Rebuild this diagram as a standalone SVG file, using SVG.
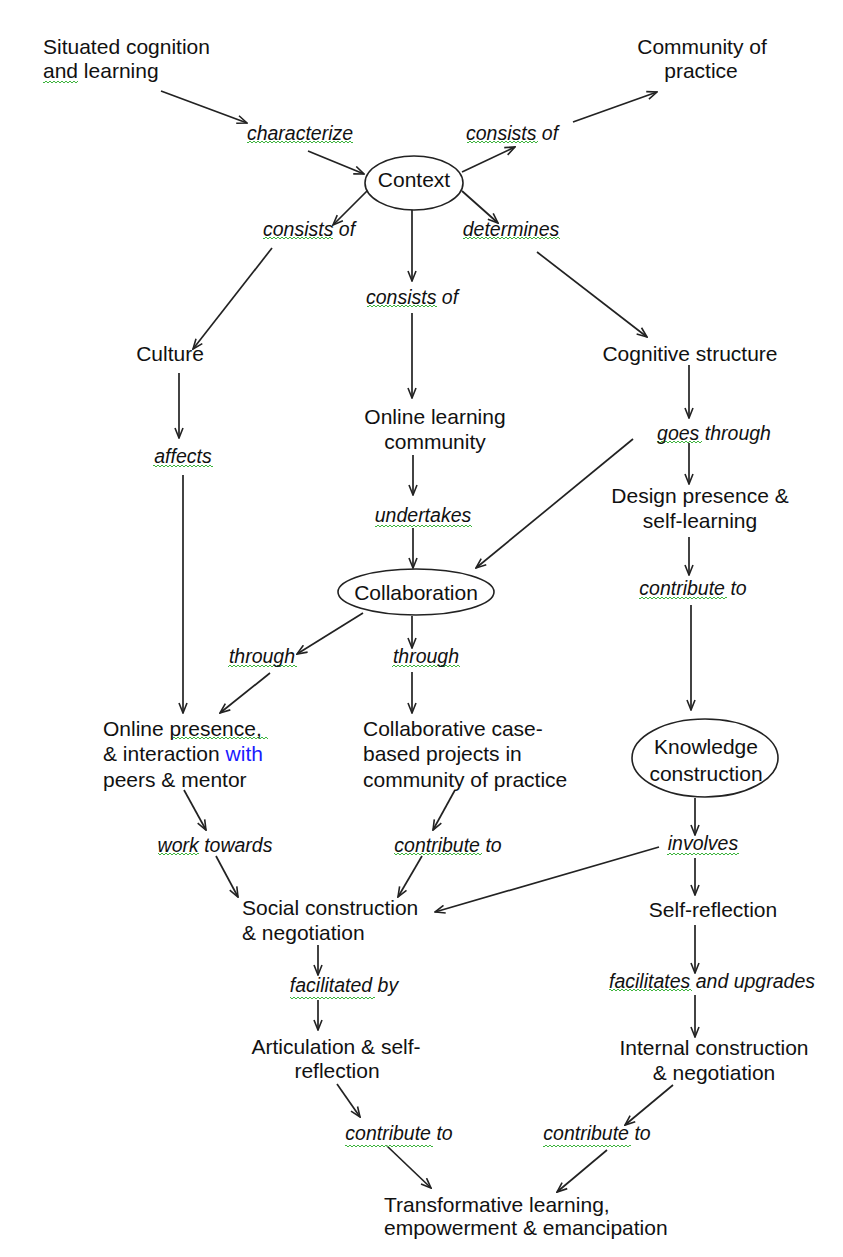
<svg xmlns="http://www.w3.org/2000/svg" width="843" height="1257" viewBox="0 0 843 1257">
<style>
.n{font-family:"Liberation Sans",Arial,sans-serif;font-size:21px;fill:#111}
.l{font-family:"Liberation Sans",Arial,sans-serif;font-size:19.5px;font-style:italic;fill:#111}
.c{text-anchor:middle}
.e{fill:#fff;stroke:#222;stroke-width:1.6}
.a{stroke:#222;stroke-width:1.7;fill:none;marker-end:url(#ah)}
.sq{fill:url(#sq)}
</style>
<defs>
<marker id="ah" viewBox="0 0 12 10" refX="11" refY="5" markerWidth="12" markerHeight="10" markerUnits="userSpaceOnUse" orient="auto">
<path d="M1,1 L11,5 L1,9" fill="none" stroke="#222" stroke-width="1.6"/>
</marker>
<pattern id="sq" width="4" height="4" patternUnits="userSpaceOnUse">
<path d="M0,3 L2,1 L4,3" fill="none" stroke="#3cb43c" stroke-width="1"/>
</pattern>
</defs>
<rect width="843" height="1257" fill="#fff"/>
<g id="connectors">
<line class="a" x1="161" y1="91" x2="247" y2="123"/>
<line class="a" x1="308" y1="151" x2="364" y2="174"/>
<line class="a" x1="462" y1="172" x2="515" y2="147"/>
<line class="a" x1="573" y1="122" x2="657" y2="92"/>
<line class="a" x1="367" y1="191" x2="333" y2="225"/>
<line class="a" x1="272" y1="248" x2="193" y2="349"/>
<line class="a" x1="412" y1="209" x2="412" y2="281"/>
<line class="a" x1="412" y1="313" x2="412" y2="398"/>
<line class="a" x1="462" y1="191" x2="498" y2="223"/>
<line class="a" x1="537" y1="252" x2="647" y2="337"/>
<line class="a" x1="179" y1="373" x2="179" y2="438"/>
<line class="a" x1="183" y1="475" x2="183" y2="713"/>
<line class="a" x1="413" y1="455" x2="413" y2="495"/>
<line class="a" x1="413" y1="528" x2="413" y2="568"/>
<line class="a" x1="689" y1="365" x2="689" y2="418"/>
<line class="a" x1="689" y1="443" x2="689" y2="484"/>
<line class="a" x1="633" y1="439" x2="476" y2="568"/>
<line class="a" x1="689" y1="537" x2="689" y2="575"/>
<line class="a" x1="691" y1="605" x2="691" y2="710"/>
<line class="a" x1="363" y1="613" x2="297" y2="654"/>
<line class="a" x1="270" y1="673" x2="220" y2="713"/>
<line class="a" x1="412" y1="616" x2="412" y2="648"/>
<line class="a" x1="412" y1="672" x2="412" y2="713"/>
<line class="a" x1="184" y1="790" x2="206" y2="830"/>
<line class="a" x1="216" y1="856" x2="238" y2="897"/>
<line class="a" x1="455" y1="790" x2="433" y2="830"/>
<line class="a" x1="422" y1="856" x2="398" y2="897"/>
<line class="a" x1="695" y1="798" x2="695" y2="835"/>
<line class="a" x1="659" y1="847" x2="435" y2="912"/>
<line class="a" x1="695" y1="858" x2="695" y2="895"/>
<line class="a" x1="695" y1="925" x2="695" y2="973"/>
<line class="a" x1="695" y1="995" x2="695" y2="1037"/>
<line class="a" x1="673" y1="1085" x2="625" y2="1125"/>
<line class="a" x1="607" y1="1150" x2="557" y2="1192"/>
<line class="a" x1="318" y1="945" x2="318" y2="975"/>
<line class="a" x1="318" y1="1000" x2="318" y2="1030"/>
<line class="a" x1="337" y1="1084" x2="360" y2="1117"/>
<line class="a" x1="387" y1="1146" x2="431" y2="1188"/>
</g>
<g id="spellcheck-marks">
<rect class="sq" x="43" y="80" width="35" height="4"/>
<rect class="sq" x="247" y="140" width="106" height="4"/>
<rect class="sq" x="467" y="140" width="71" height="4"/>
<rect class="sq" x="263" y="236" width="70" height="4"/>
<rect class="sq" x="463" y="236" width="97" height="4"/>
<rect class="sq" x="367" y="304" width="70" height="4"/>
<rect class="sq" x="153" y="464" width="60" height="4"/>
<rect class="sq" x="375" y="524" width="97" height="4"/>
<rect class="sq" x="657" y="440" width="45" height="4"/>
<rect class="sq" x="639" y="596" width="88" height="4"/>
<rect class="sq" x="228" y="664" width="69" height="4"/>
<rect class="sq" x="392" y="664" width="68" height="4"/>
<rect class="sq" x="172" y="736" width="96" height="4"/>
<rect class="sq" x="158" y="852" width="41" height="4"/>
<rect class="sq" x="394" y="852" width="88" height="4"/>
<rect class="sq" x="667" y="852" width="72" height="4"/>
<rect class="sq" x="290" y="996" width="85" height="4"/>
<rect class="sq" x="609" y="988" width="83" height="4"/>
<rect class="sq" x="345" y="1144" width="88" height="4"/>
<rect class="sq" x="543" y="1144" width="88" height="4"/>
</g>
<g id="n-situated"><text class="n" x="43" y="54">Situated cognition</text><text class="n" x="43" y="78">and learning</text></g>
<g id="n-community"><text class="n c" x="702" y="54">Community of</text><text class="n c" x="701" y="78">practice</text></g>
<g id="l-characterize"><text class="l c" x="300" y="140">characterize</text></g>
<g id="l-consists1"><text class="l c" x="512" y="140">consists of</text></g>
<g id="n-context"><ellipse class="e" cx="414" cy="183" rx="49" ry="27"/><text class="n c" x="414" y="187">Context</text></g>
<g id="l-consists2"><text class="l c" x="309" y="236">consists of</text></g>
<g id="l-determines"><text class="l c" x="511" y="236">determines</text></g>
<g id="l-consists3"><text class="l c" x="412" y="304">consists of</text></g>
<g id="n-culture"><text class="n c" x="170" y="361">Culture</text></g>
<g id="n-cognitive"><text class="n c" x="690" y="361">Cognitive structure</text></g>
<g id="n-online-learning"><text class="n c" x="435" y="424">Online learning</text><text class="n c" x="435" y="449">community</text></g>
<g id="l-goes"><text class="l c" x="714" y="440">goes through</text></g>
<g id="l-affects"><text class="l c" x="183" y="463">affects</text></g>
<g id="n-design"><text class="n c" x="700" y="503">Design presence &amp;</text><text class="n c" x="700" y="528">self-learning</text></g>
<g id="l-undertakes"><text class="l c" x="423" y="522">undertakes</text></g>
<g id="n-collaboration"><ellipse class="e" cx="416" cy="592" rx="78" ry="23"/><text class="n c" x="416" y="600">Collaboration</text></g>
<g id="l-contribute1"><text class="l c" x="693" y="595">contribute to</text></g>
<g id="l-through1"><text class="l c" x="262" y="663">through</text></g>
<g id="l-through2"><text class="l c" x="426" y="663">through</text></g>
<g id="n-online-presence"><text class="n" x="103" y="736">Online presence,</text><text class="n" x="103" y="761">&amp; interaction <tspan fill="#1a1aff">with</tspan></text><text class="n" x="103" y="787">peers &amp; mentor</text></g>
<g id="n-collaborative"><text class="n" x="363" y="736">Collaborative case-</text><text class="n" x="363" y="761">based projects in</text><text class="n" x="363" y="787">community of practice</text></g>
<g id="n-knowledge"><ellipse class="e" cx="705" cy="758" rx="73" ry="39"/><text class="n c" x="706" y="754">Knowledge</text><text class="n c" x="706" y="781">construction</text></g>
<g id="l-work"><text class="l c" x="215" y="852">work towards</text></g>
<g id="l-contribute2"><text class="l c" x="448" y="852">contribute to</text></g>
<g id="l-involves"><text class="l c" x="703" y="850">involves</text></g>
<g id="n-social"><text class="n" x="242" y="915">Social construction</text><text class="n" x="242" y="940">&amp; negotiation</text></g>
<g id="n-selfreflection"><text class="n c" x="713" y="917">Self-reflection</text></g>
<g id="l-facilitated"><text class="l c" x="344" y="992">facilitated by</text></g>
<g id="l-facilitates"><text class="l c" x="712" y="988">facilitates and upgrades</text></g>
<g id="n-articulation"><text class="n c" x="336" y="1054">Articulation &amp; self-</text><text class="n c" x="337" y="1078">reflection</text></g>
<g id="n-internal"><text class="n c" x="714" y="1055">Internal construction</text><text class="n c" x="714" y="1080">&amp; negotiation</text></g>
<g id="l-contribute3"><text class="l c" x="399" y="1140">contribute to</text></g>
<g id="l-contribute4"><text class="l c" x="597" y="1140">contribute to</text></g>
<g id="n-transformative"><text class="n" x="384" y="1212">Transformative learning,</text><text class="n" x="384" y="1235">empowerment &amp; emancipation</text></g>
</svg>
